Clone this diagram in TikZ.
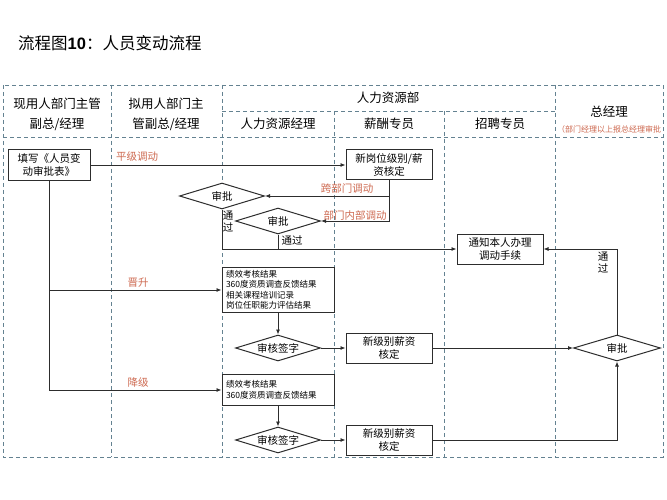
\documentclass[tikz,border=0pt]{standalone}
\usepackage{fontspec}
\setmainfont{Noto Sans CJK SC}
\newfontfamily\numfont{Liberation Sans}
\usetikzlibrary{arrows.meta,shapes.geometric}
\definecolor{lanec}{RGB}{100,130,145}
\definecolor{notec}{RGB}{205,105,80}
\definecolor{ink}{RGB}{45,45,45}
\tikzset{pin/.style={draw=ink, line width=0.8pt, -{Latex[length=5pt,width=4pt]}},
  ln/.style={draw=ink, line width=0.8pt},
  lane/.style={draw=lanec, line width=0.8pt, dash pattern=on 4pt off 3pt},
  blk/.style={draw=ink, line width=1pt, fill=white, align=center, minimum width=86pt, minimum height=30pt, inner sep=2pt, font=\fontsize{10.5}{13.5}\selectfont},
  dia/.style={draw=ink, line width=1pt, fill=white, diamond, aspect=3.2, minimum width=85pt, minimum height=26pt, inner sep=0pt, font=\fontsize{10.5}{13}\selectfont},
  memo/.style={draw=ink, line width=1pt, fill=white, align=left, text width=104pt, inner xsep=4pt, inner ysep=2.5pt, font=\fontsize{8.5}{10.5}\selectfont},
  tag/.style={text=notec, font=\fontsize{10.5}{12}\selectfont, inner sep=0pt},
  lbl/.style={font=\fontsize{10.5}{12}\selectfont, align=center, inner sep=0pt},
  hd/.style={font=\fontsize{12.5}{20}\selectfont, align=center, inner sep=0pt}}

\begin{document}
\begin{tikzpicture}[x=1pt, y=-1pt]
  \useasboundingbox (0,0) rectangle (667,500);
  \node[anchor=west, inner sep=0pt, font=\fontsize{16.5}{20}\selectfont] (title) at (18,43) {流程图{\numfont\bfseries 10}：人员变动流程};
  % swim lanes
  \draw[lane] (3,85) rectangle (663,457);
  \draw[lane] (3,137) -- (663,137);
  \draw[lane] (222,111) -- (555,111);
  \foreach \x in {111,222,555} \draw[lane] (\x,85) -- (\x,457);
  \foreach \x in {334,444} \draw[lane] (\x,111) -- (\x,457);
  \node[hd] (h1) at (57,114) {现用人部门主管\\副总/经理};
  \node[hd] (h2) at (166,114) {拟用人部门主\\管副总/经理};
  \node[hd] (hr) at (388,98) {人力资源部};
  \node[hd] (h3) at (278,124) {人力资源经理};
  \node[hd] (h4) at (389,124) {薪酬专员};
  \node[hd] (h5) at (500,124) {招聘专员};
  \node[hd] (h6) at (609,112) {总经理};
  \node[text=notec, inner sep=0pt, font=\fontsize{8}{9}\selectfont] (h6n) at (609,129) {（部门经理以上报总经理审批};
  % nodes
  \node[blk, minimum width=82pt, minimum height=31pt] (fill) at (49,165) {填写《人员变\\动审批表》};
  \node[blk] (newpos) at (389,165) {新岗位级别/薪\\资核定};
  \node[dia] (ap1) at (222,196) {审批};
  \node[dia] (ap2) at (278,221) {审批};
  \node[blk] (notify) at (500,249) {通知本人办理\\调动手续};
  \node[memo] (perf1) at (278,290) {绩效考核结果\\360度资质调查反馈结果\\相关课程培训记录\\岗位任职能力评估结果};
  \node[dia] (sign1) at (278,348) {审核签字};
  \node[blk] (sal1) at (389,348) {新级别薪资\\核定};
  \node[dia, minimum width=87pt] (gm) at (617,348) {审批};
  \node[memo, minimum height=31pt] (perf2) at (278,390) {绩效考核结果\\360度资质调查反馈结果};
  \node[dia] (sign2) at (278,440) {审核签字};
  \node[blk] (sal2) at (389,440) {新级别薪资\\核定};
  % same level transfer
  \draw[pin] (fill.east) -- (newpos.west);
  \node[tag] (t1) at (137,157) {平级调动};
  \draw[pin] (newpos.south) |- (ap1.east);
  \draw[pin] (newpos.south) |- (ap2.east);
  \node[tag] (t2) at (347,189) {跨部门调动};
  \node[tag] (t3) at (355,215) {部门内部调动};
  \draw[pin] (ap1.south) |- (notify.west);
  \draw[ln] (ap2.south) -- (ap2.south |- notify.west);
  \node[lbl] (p1) at (228,222) {通\\过};
  \node[lbl] (p2) at (292,240) {通过};
  % promotion / demotion
  \draw[pin] (fill.south) |- (perf2.west);
  \draw[pin] (fill.south |- perf1.west) -- (perf1.west);
  \node[tag] (t4) at (138,283) {晋升};
  \node[tag] (t5) at (138,383) {降级};
  \draw[pin] (perf1) -- (sign1);
  \draw[pin] (sign1) -- (sal1);
  \draw[pin] (sal1.east) -- (gm.west);
  \draw[pin] (perf2) -- (sign2);
  \draw[pin] (sign2) -- (sal2);
  \draw[pin] (sal2.east) -| (gm.south);
  \draw[pin] (gm.north) |- (notify.east);
  \node[lbl] (p3) at (603,263) {通\\过};
\end{tikzpicture}
\end{document}
